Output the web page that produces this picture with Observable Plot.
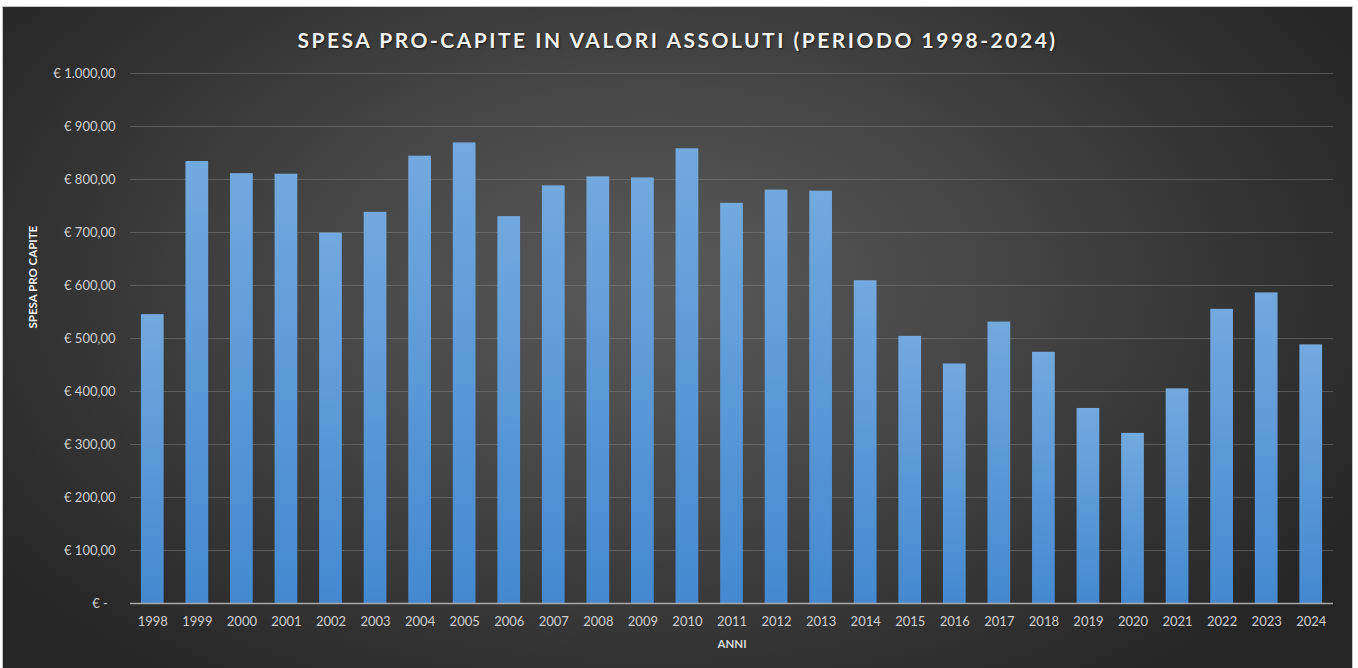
<!DOCTYPE html>
<html>
<head>
<meta charset="utf-8">
<script src="https://cdn.jsdelivr.net/npm/d3@7"></script>
<script src="https://cdn.jsdelivr.net/npm/@observablehq/plot@0.6"></script>
<style>
  html, body { margin: 0; padding: 0; background: #ffffff; }
  body { width: 1358px; height: 668px; overflow: hidden; position: relative; font-family: Lato, "Open Sans", sans-serif; }
  #panel {
    position: absolute; left: 3px; top: 7px; width: 1349px; height: 661px;
    background: radial-gradient(ellipse 60% 75% at 48% 42%, #595959 0%, #474747 40%, #333333 75%, #262626 100%);
    box-shadow: 0 0 0 1px #c4c4c4;
    overflow: hidden;
  }
  #title {
    position: absolute; left: 0; right: 0; top: 21px; text-align: center;
    color: #f2f2f2; font: bold 21px Lato, sans-serif; letter-spacing: 2.5px; line-height: 24px;
    text-shadow: 1px 1px 2px rgba(0,0,0,0.6);
  }
  #chart { position: absolute; left: 0; top: 48px; }
</style>
</head>
<body>
<div id="panel">
  <div id="title">SPESA PRO-CAPITE IN VALORI ASSOLUTI (PERIODO 1998-2024)</div>
  <div id="chart"></div>
</div>
<script>
const years = ["1998","1999","2000","2001","2002","2003","2004","2005","2006","2007","2008","2009","2010","2011","2012","2013","2014","2015","2016","2017","2018","2019","2020","2021","2022","2023","2024"];
const values = [545, 834, 811, 810, 699, 738, 844, 869, 730, 788, 805, 803, 858, 755, 780, 778, 609, 504, 452, 531, 474, 368, 321, 405, 555, 586, 488];
const yTicks = [0, 100, 200, 300, 400, 500, 600, 700, 800, 900, 1000];
const xLabel = "ANNI";
const yLabel = "SPESA PRO CAPITE";

const data = years.map((y, i) => ({year: y, value: values[i]}));

const it = d3.formatLocale({decimal: ",", thousands: ".", grouping: [3], currency: ["€ ", ""]});
const fmt = it.format(",.2f");
const yFormat = d => d === 0 ? "€ -\u2007" : "€ " + fmt(d);

const chart = Plot.plot({
  width: 1349,
  height: 613,
  marginLeft: 127,
  marginRight: 19,
  marginTop: 18,
  marginBottom: 65,
  style: {background: "transparent", color: "#cfcfcf", fontFamily: "Lato, sans-serif", fontSize: "13px"},
  x: {domain: years, paddingInner: 0.49, paddingOuter: 0.245, round: false, label: null, tickSize: 0, tickPadding: 13},
  y: {domain: [0, 1000], ticks: yTicks, tickFormat: yFormat, label: null, tickSize: 0, tickPadding: 15},
  marks: [
    Plot.ruleY(yTicks.filter(d => d > 0), {stroke: "#8a8a8a", strokeOpacity: 0.45, strokeWidth: 1}),
    Plot.barY(data, {x: "year", y: "value", fill: "url(#barGrad)", style: {filter: "drop-shadow(1px 1px 1.5px rgba(0,0,0,0.55))"}}),
    Plot.ruleY([0], {stroke: "#a8a8a8", strokeWidth: 1.6}),
    Plot.text([xLabel], {frameAnchor: "bottom", dy: 44, fill: "#d9d9d9", fontWeight: "bold", fontSize: 11.5}),
    Plot.text([yLabel], {frameAnchor: "left", rotate: -90, dx: -97, dy: -10, fill: "#f0f0f0", fontWeight: "bold", fontSize: 11.5})
  ]
});

const ns = "http://www.w3.org/2000/svg";
const defs = document.createElementNS(ns, "defs");
defs.innerHTML = `<linearGradient id="barGrad" x1="0" y1="0" x2="0" y2="1">
  <stop offset="0%" stop-color="#72a9de"/>
  <stop offset="100%" stop-color="#4489d0"/>
</linearGradient>`;
chart.insertBefore(defs, chart.firstChild);
document.getElementById("chart").appendChild(chart);
</script>
</body>
</html>
